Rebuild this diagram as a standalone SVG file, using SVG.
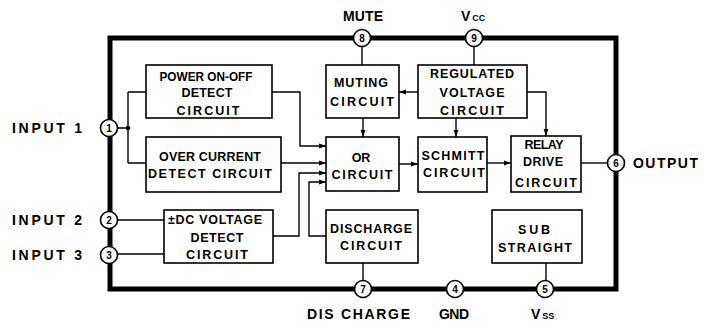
<svg xmlns="http://www.w3.org/2000/svg" width="707" height="326" viewBox="0 0 707 326">
<defs>
<marker id="arr" markerUnits="userSpaceOnUse" markerWidth="8" markerHeight="6" refX="7" refY="3" orient="auto">
<path d="M0,0.6 L7,3 L0,5.4 Z" fill="#000"/>
</marker>
<style>
.box{fill:#fff;stroke:#000;stroke-width:1.6}
.ln{fill:none;stroke:#000;stroke-width:1.4}
.frame{fill:none;stroke:#000;stroke-width:5}
.pin{fill:#fff;stroke:#000;stroke-width:1.6}
.bt{font-family:"Liberation Sans",Arial,sans-serif;font-weight:bold;font-size:12.5px;text-anchor:middle;fill:#000}
.pt{font-family:"Liberation Sans",Arial,sans-serif;font-weight:bold;font-size:10px;text-anchor:middle;fill:#000}
.lb{font-family:"Liberation Sans",Arial,sans-serif;font-weight:bold;font-size:14px;fill:#000}
.sm{font-size:9px}
</style>
</defs>
<rect width="707" height="326" fill="#fff"/>
<rect class="frame" x="110" y="38" width="506" height="251"/>

<g id="connectors">
<path class="ln" d="M117,128 H128 M128,92 V163 M128,92 H146 M128,163 H146"/>
<circle cx="128" cy="128" r="2.3" fill="#000"/>
<path class="ln" d="M272,92 H300 V146 H326" marker-end="url(#arr)"/>
<path class="ln" d="M281,163 H326" marker-end="url(#arr)"/>
<path class="ln" d="M273,236 H299 V173 H326" marker-end="url(#arr)"/>
<path class="ln" d="M326,236 H309 V182 H326" marker-end="url(#arr)"/>
<path class="ln" d="M117,220 H164"/>
<path class="ln" d="M117,254 H164"/>
<path class="ln" d="M362,46 V65"/>
<path class="ln" d="M474,46 V65"/>
<path class="ln" d="M363,118 V137" marker-end="url(#arr)"/>
<path class="ln" d="M418,92 H399" marker-end="url(#arr)"/>
<path class="ln" d="M456,118 V137" marker-end="url(#arr)"/>
<path class="ln" d="M527,92 H546 V136" marker-end="url(#arr)"/>
<path class="ln" d="M399,164 H418" marker-end="url(#arr)"/>
<path class="ln" d="M487,163 H511" marker-end="url(#arr)"/>
<path class="ln" d="M581,163 H608"/>
<path class="ln" d="M363,263 V281"/>
<path class="ln" d="M546,263 V281"/>
</g>

<g id="power-on-off">
<rect class="box" x="146" y="65" width="126" height="53"/>
<text class="bt" x="206" y="81" textLength="93" lengthAdjust="spacingAndGlyphs">POWER ON-OFF</text>
<text class="bt" x="207" y="97" textLength="51" lengthAdjust="spacing">DETECT</text>
<text class="bt" x="208" y="115" textLength="63" lengthAdjust="spacing">CIRCUIT</text>
</g>
<g id="over-current">
<rect class="box" x="146" y="137" width="135" height="55"/>
<text class="bt" x="210" y="161" textLength="102" lengthAdjust="spacing">OVER CURRENT</text>
<text class="bt" x="210" y="178" textLength="124" lengthAdjust="spacing">DETECT CIRCUIT</text>
</g>
<g id="dc-voltage">
<rect class="box" x="164" y="210" width="109" height="53"/>
<text class="bt" x="215" y="224" textLength="94" lengthAdjust="spacing">±DC VOLTAGE</text>
<text class="bt" x="217" y="242" textLength="53" lengthAdjust="spacing">DETECT</text>
<text class="bt" x="217" y="259" textLength="62" lengthAdjust="spacing">CIRCUIT</text>
</g>
<g id="muting">
<rect class="box" x="326" y="65" width="73" height="53"/>
<text class="bt" x="361" y="87" textLength="54" lengthAdjust="spacing">MUTING</text>
<text class="bt" x="362" y="106" textLength="64" lengthAdjust="spacing">CIRCUIT</text>
</g>
<g id="regulated">
<rect class="box" x="418" y="65" width="109" height="53"/>
<text class="bt" x="472" y="78" textLength="84" lengthAdjust="spacing">REGULATED</text>
<text class="bt" x="472" y="97" textLength="65" lengthAdjust="spacing">VOLTAGE</text>
<text class="bt" x="472" y="115" textLength="64" lengthAdjust="spacing">CIRCUIT</text>
</g>
<g id="or">
<rect class="box" x="326" y="137" width="73" height="54"/>
<text class="bt" x="361" y="162">OR</text>
<text class="bt" x="362" y="179" textLength="61" lengthAdjust="spacing">CIRCUIT</text>
</g>
<g id="schmitt">
<rect class="box" x="418" y="137" width="69" height="55"/>
<text class="bt" x="453" y="160" textLength="63" lengthAdjust="spacing">SCHMITT</text>
<text class="bt" x="454" y="177" textLength="62" lengthAdjust="spacing">CIRCUIT</text>
</g>
<g id="relay-drive">
<rect class="box" x="511" y="136" width="70" height="56"/>
<text class="bt" x="544" y="149" textLength="39" lengthAdjust="spacing">RELAY</text>
<text class="bt" x="543" y="166" textLength="40" lengthAdjust="spacing">DRIVE</text>
<text class="bt" x="546" y="187" textLength="62" lengthAdjust="spacing">CIRCUIT</text>
</g>
<g id="discharge">
<rect class="box" x="326" y="210" width="92" height="53"/>
<text class="bt" x="371" y="233" textLength="82" lengthAdjust="spacing">DISCHARGE</text>
<text class="bt" x="371" y="250" textLength="62" lengthAdjust="spacing">CIRCUIT</text>
</g>
<g id="sub-straight">
<rect class="box" x="492" y="210" width="90" height="53"/>
<text class="bt" x="534" y="234" textLength="32" lengthAdjust="spacing">SUB</text>
<text class="bt" x="535" y="252" textLength="74" lengthAdjust="spacing">STRAIGHT</text>
</g>

<g id="pin1"><circle class="pin" cx="109" cy="128" r="8.5"/><text class="pt" x="109" y="131.5">1</text></g>
<g id="pin2"><circle class="pin" cx="109" cy="220" r="8.5"/><text class="pt" x="109" y="223.5">2</text></g>
<g id="pin3"><circle class="pin" cx="109" cy="255" r="8.5"/><text class="pt" x="109" y="258.5">3</text></g>
<g id="pin8"><circle class="pin" cx="362" cy="38" r="8.5"/><text class="pt" x="362" y="41.5">8</text></g>
<g id="pin9"><circle class="pin" cx="474" cy="38" r="8.5"/><text class="pt" x="474" y="41.5">9</text></g>
<g id="pin6"><circle class="pin" cx="616" cy="163" r="8.5"/><text class="pt" x="616" y="166.5">6</text></g>
<g id="pin7"><circle class="pin" cx="363" cy="289" r="8.5"/><text class="pt" x="363" y="292.5">7</text></g>
<g id="pin4"><circle class="pin" cx="455" cy="289" r="8.5"/><text class="pt" x="455" y="292.5">4</text></g>
<g id="pin5"><circle class="pin" cx="545" cy="289" r="8.5"/><text class="pt" x="545" y="292.5">5</text></g>

<g id="labels">
<text class="lb" x="12" y="133" textLength="70" lengthAdjust="spacing">INPUT 1</text>
<text class="lb" x="12" y="225" textLength="70" lengthAdjust="spacing">INPUT 2</text>
<text class="lb" x="12" y="260" textLength="70" lengthAdjust="spacing">INPUT 3</text>
<text class="lb" x="343" y="21" textLength="40" lengthAdjust="spacing">MUTE</text>
<text class="lb" x="461" y="21">V<tspan class="sm" dx="2">CC</tspan></text>
<text class="lb" x="633" y="168" textLength="65" lengthAdjust="spacing">OUTPUT</text>
<text class="lb" x="307" y="319" textLength="103" lengthAdjust="spacing">DIS CHARGE</text>
<text class="lb" x="439" y="319" textLength="30" lengthAdjust="spacing">GND</text>
<text class="lb" x="531" y="319">V<tspan class="sm" dx="2">SS</tspan></text>
</g>
</svg>
